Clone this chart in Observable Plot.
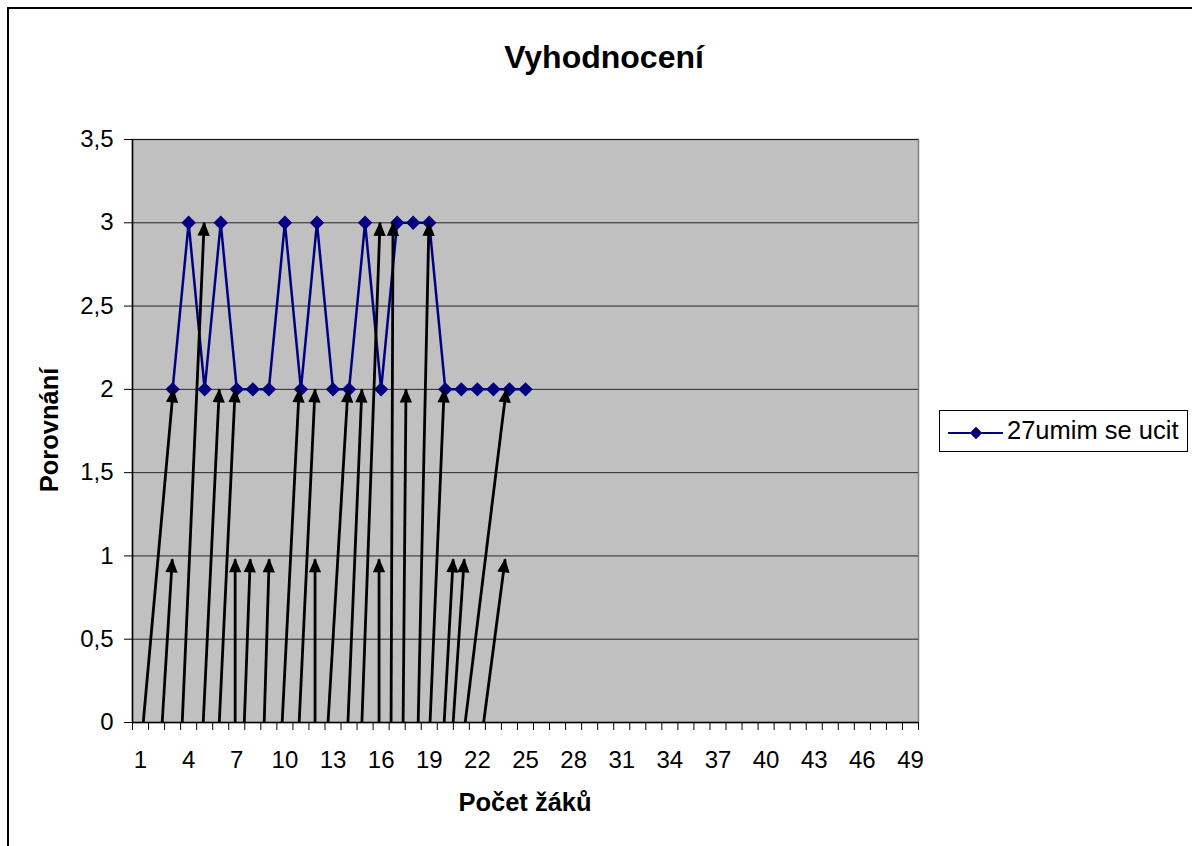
<!DOCTYPE html>
<html><head><meta charset="utf-8">
<script src="https://cdn.jsdelivr.net/npm/d3@7"></script>
<script src="https://cdn.jsdelivr.net/npm/@observablehq/plot@0.6"></script>
<style>
html,body{margin:0;padding:0;background:#fff;overflow:hidden;width:1192px;height:846px}
#wrap{position:relative;width:1192px;height:846px;font-family:"Liberation Sans",Arial,sans-serif;overflow:hidden}
#border{position:absolute;left:7px;top:7px;width:1300px;height:1000px;border:2px solid #000;box-sizing:border-box}
#chart{position:absolute;left:0;top:0}
#overlay{position:absolute;left:0;top:0}
</style></head><body>
<div id="wrap"><div id="border"></div><div id="chart"></div><svg id="overlay" width="1192" height="846"></svg></div>
<script>
// ---- data ----
const titleText = "Vyhodnocení";
const xTitle = "Počet žáků";
const yTitle = "Porovnání";
const seriesName = "27umim se ucit";
const categoryCount = 49;
const xTickLabels = [1, 4, 7, 10, 13, 16, 19, 22, 25, 28, 31, 34, 37, 40, 43, 46, 49];
const yTicks = [0, 0.5, 1, 1.5, 2, 2.5, 3, 3.5];
const seriesX = [3, 4, 5, 6, 7, 8, 9, 10, 11, 12, 13, 14, 15, 16, 17, 18, 19, 20, 21, 22, 23, 24, 25];
const seriesValues = [2, 3, 2, 3, 2, 2, 2, 3, 2, 3, 2, 2, 3, 2, 3, 3, 3, 2, 2, 2, 2, 2, 2];
// arrows drawn on the chart (category units, value units)
const arrowX1 = [1.17, 2.35, 3.60, 4.91, 5.91, 6.90, 7.47, 8.71, 9.83, 10.89, 11.88, 12.69, 13.93, 14.80, 15.87, 16.62, 17.37, 18.31, 19.05, 19.93, 20.49, 21.24, 22.39];
const arrowY1 = [0, 0, 0, 0, 0, 0, 0, 0, 0, 0, 0, 0, 0, 0, 0, 0, 0, 0, 0, 0, 0, 0, 0];
const arrowX2 = [3.04, 2.98, 4.97, 5.91, 6.90, 6.90, 7.84, 9.02, 10.89, 11.88, 11.88, 13.93, 14.80, 15.93, 15.87, 16.74, 17.55, 18.98, 19.93, 20.49, 21.18, 23.80, 23.73];
const arrowY2 = [2, 0.98, 3, 2, 2, 0.98, 0.98, 0.98, 2, 2, 0.98, 2, 2, 3, 0.98, 3, 2, 3, 2, 0.98, 0.98, 2, 0.98];

const series = seriesX.map((x, i) => ({x, y: seriesValues[i]}));
const arrows = arrowX1.map((x1, i) => ({x1, y1: arrowY1[i], x2: arrowX2[i], y2: arrowY2[i]}));
const xBoundaries = d3.range(0, categoryCount + 1).map(i => i + 0.5);

const FONT = '"Liberation Sans", Arial, sans-serif';
const W = 1192, H = 846;
const plot = Plot.plot({
  width: W, height: H,
  marginLeft: 132, marginTop: 139, marginRight: 274, marginBottom: 124,
  style: {background: "transparent", fontFamily: FONT, fontSize: "24px", color: "#000", overflow: "visible"},
  x: {type: "linear", domain: [0.5, categoryCount + 0.5]},
  y: {domain: [0, 3.5]},
  marks: [
    Plot.frame({fill: "#C0C0C0", stroke: "#808080", strokeWidth: 1.5}),
    Plot.gridY({ticks: yTicks.slice(1), stroke: "#000", strokeOpacity: 0.8, strokeWidth: 1}),
    Plot.line(series, {x: "x", y: "y", stroke: "#000080", strokeWidth: 2.5}),
    Plot.dot(series, {x: "x", y: "y", symbol: "diamond2", r: 6.5, fill: "#000080", stroke: "none"}),
    Plot.link(arrows, {x1: "x1", y1: "y1", x2: "x2", y2: "y2", stroke: "#000", strokeWidth: 2.8, markerEnd: "arrow"}),
    Plot.axisY({ticks: yTicks, tickSize: 8, tickPadding: 11, tickFormat: d => String(d).replace(".", ","), fontSize: 24, stroke: "#000", label: null}),
    Plot.ruleX([0.5], {stroke: "#000", strokeWidth: 1.5}),
    Plot.ruleY([0], {stroke: "#000", strokeWidth: 1.5}),
    Plot.axisX({ticks: xTickLabels, tickSize: 0, tickPadding: 28, fontSize: 24, label: null}),
    Plot.axisX({ticks: xBoundaries, tickSize: 8, tickFormat: () => "", stroke: "#000", label: null})
  ]
});
// filled arrowheads
plot.querySelectorAll("marker").forEach(m => {
  m.setAttribute("fill", "#000");
  m.setAttribute("stroke", "none");
  m.setAttribute("overflow", "visible");
  const p = m.querySelector("path");
  if (p) p.setAttribute("d", "M-7,-3.3L0.5,0L-7,3.3Z");
});
document.getElementById("chart").appendChild(plot);

// titles and legend
const ov = d3.select("#overlay").style("font-family", FONT);
ov.append("text").attr("x", 604).attr("y", 68).attr("text-anchor", "middle")
  .attr("font-size", 32).attr("font-weight", "bold").text(titleText);
ov.append("text").attr("x", 525).attr("y", 811).attr("text-anchor", "middle")
  .attr("font-size", 25.5).attr("font-weight", "bold").text(xTitle);
ov.append("text").attr("transform", "translate(57.5,430) rotate(-90)").attr("text-anchor", "middle")
  .attr("font-size", 25.5).attr("font-weight", "bold").text(yTitle);
const lg = ov.append("g");
lg.append("rect").attr("x", 939.5).attr("y", 410.5).attr("width", 248).attr("height", 41)
  .attr("fill", "#fff").attr("stroke", "#000").attr("stroke-width", 1);
lg.append("line").attr("x1", 948).attr("x2", 1003).attr("y1", 433).attr("y2", 433)
  .attr("stroke", "#000080").attr("stroke-width", 2);
lg.append("path").attr("d", d3.symbol(d3.symbolDiamond2, 100)()).attr("transform", "translate(976,433)")
  .attr("fill", "#000080");
lg.append("text").attr("x", 1007).attr("y", 439).attr("font-size", 25.5).text(seriesName);
</script>
</body></html>
